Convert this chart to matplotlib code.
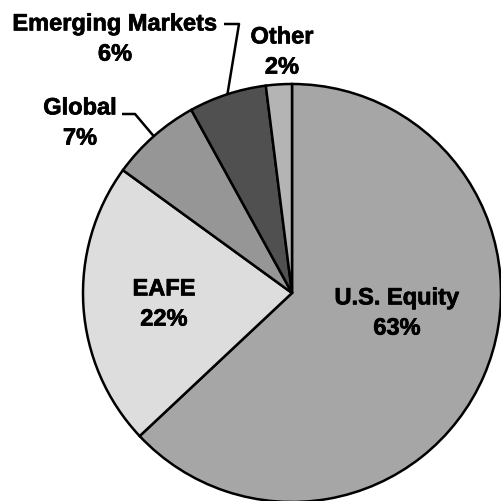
import numpy as np
import matplotlib
matplotlib.use("Agg")
import matplotlib.pyplot as plt
import matplotlib.patheffects as pe

# Data alokasi
labels = ["U.S. Equity", "EAFE", "Global", "Emerging Markets", "Other"]
shares = [63, 22, 7, 6, 2]
colors = ["#a6a6a6", "#dddddd", "#969696", "#505050", "#b4b4b4"]

W, H = 501, 502
cx, cy, R = 292, H - 294, 209

fig = plt.figure(figsize=(W / 100, H / 100), dpi=100)
ax = fig.add_axes([0, 0, 1, 1])

wedges, _ = ax.pie(shares, colors=colors, startangle=90, counterclock=False,
                   center=(cx, cy), radius=R, frame=True,
                   wedgeprops=dict(edgecolor="black", linewidth=1.8))
ax.set_xlim(0, W)
ax.set_ylim(0, H)
ax.set_aspect("equal")
ax.axis("off")

font = dict(family="Liberation Sans", fontweight="bold", fontsize=17,
            ha="center", va="center", linespacing=1.4,
            path_effects=[pe.withStroke(linewidth=0.5, foreground="black")])

# label di dalam pie
inside = {"U.S. Equity": (397, 314), "EAFE": (164, 305)}
# label di luar pie + titik siku garis
outside = {
    "Global": ((80, 124), [(122, 115), (135, 115)]),
    "Emerging Markets": ((115, 40), [(224, 25), (239, 25)]),
    "Other": ((282, 53), None),
}

for w, lab, val in zip(wedges, labels, shares):
    txt = f"{lab}\n{val}%"
    if lab in inside:
        x, y = inside[lab]
        ax.text(x, H - y, txt, **font)
        continue
    (x, y), elbow = outside[lab]
    ax.text(x, H - y, txt, **font)
    if elbow is None:
        continue
    mid = np.deg2rad((w.theta1 + w.theta2) / 2)
    px, py = cx + R * np.cos(mid), cy + R * np.sin(mid)
    xs = [p[0] for p in elbow] + [px]
    ys = [H - p[1] for p in elbow] + [py]
    ax.plot(xs, ys, color="black", linewidth=1.8, solid_capstyle="butt")

fig.savefig("out.png", dpi=100, facecolor="white")
